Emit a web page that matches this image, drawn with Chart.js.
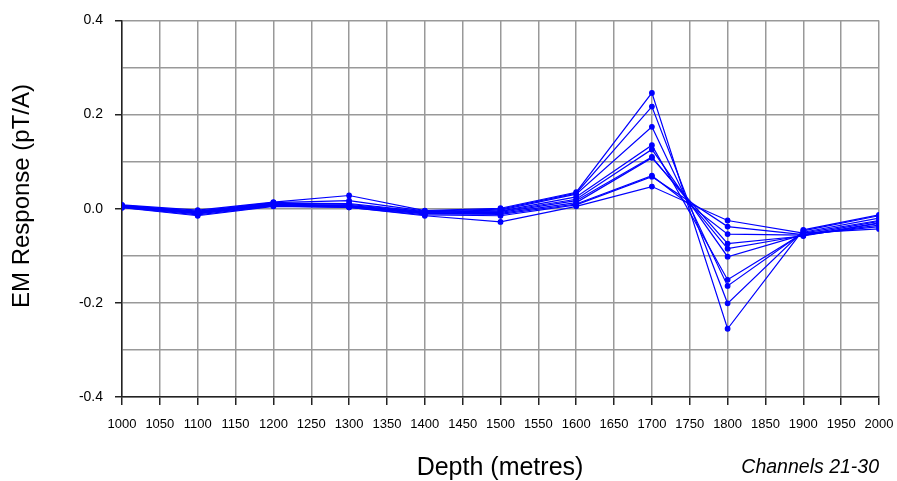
<!DOCTYPE html>
<html>
<head>
<meta charset="utf-8">
<script src="https://cdn.jsdelivr.net/npm/chart.js@4/dist/chart.umd.min.js"></script>
<style>
  html, body { margin: 0; padding: 0; background: #fff; }
  #wrap { width: 897px; height: 481px; position: relative; }
</style>
</head>
<body>
<div id="wrap"><canvas id="c"></canvas></div>
<script>
// depth stations (metres)
const depths = [1000, 1100, 1200, 1300, 1400, 1500, 1600, 1700, 1800, 1900, 2000];

// EM response per channel (pT/A)
const ch21 = [0.008, -0.003, 0.014, 0.028, -0.004, 0.001, 0.035, 0.246, -0.255, -0.045, -0.013];
const ch22 = [0.007, -0.005, 0.013, 0.017, -0.005, -0.001, 0.033, 0.217, -0.201, -0.047, -0.015];
const ch23 = [0.006, -0.006, 0.012, 0.011, -0.006, -0.003, 0.031, 0.174, -0.164, -0.050, -0.020];
const ch24 = [0.006, -0.007, 0.011, 0.009, -0.007, -0.005, 0.025, 0.135, -0.151, -0.052, -0.025];
const ch25 = [0.005, -0.008, 0.010, 0.007, -0.008, -0.006, 0.020, 0.126, -0.102, -0.055, -0.027];
const ch26 = [0.005, -0.009, 0.009, 0.006, -0.009, -0.008, 0.017, 0.110, -0.085, -0.057, -0.030];
const ch27 = [0.004, -0.010, 0.008, 0.005, -0.010, -0.010, 0.013, 0.108, -0.074, -0.058, -0.031];
const ch28 = [0.004, -0.011, 0.007, 0.004, -0.011, -0.012, 0.010, 0.070, -0.054, -0.056, -0.035];
const ch29 = [0.003, -0.013, 0.006, 0.003, -0.013, -0.015, 0.008, 0.068, -0.038, -0.055, -0.038];
const ch30 = [0.002, -0.015, 0.005, 0.003, -0.015, -0.028, 0.005, 0.047, -0.025, -0.052, -0.043];

const channels = [ch21, ch22, ch23, ch24, ch25, ch26, ch27, ch28, ch29, ch30];
const channelNames = ['21', '22', '23', '24', '25', '26', '27', '28', '29', '30'];

const yLabels = ['-0.4', '-0.2', '0.0', '0.2', '0.4'];

const BLUE = '#0000ff';
const GRID = '#999999';
const AXIS = '#222';
const FONT = "'Liberation Sans', Arial, sans-serif";

const datasets = channels.map((vals, i) => ({
  label: 'Channel ' + channelNames[i],
  data: depths.map((d, k) => ({ x: d, y: vals[k] })),
  borderColor: BLUE,
  backgroundColor: BLUE,
  borderWidth: 1.2,
  pointRadius: 2.3,
  pointHoverRadius: 2.3,
  tension: 0
}));

// axis titles drawn by hand so they sit where the original puts them
const titles = {
  id: 'titles',
  afterDraw(chart) {
    const ctx = chart.ctx;
    ctx.save();
    ctx.fillStyle = '#000';
    ctx.textBaseline = 'middle';

    ctx.font = '24px ' + FONT;
    ctx.textAlign = 'center';
    ctx.save();
    ctx.translate(22, 196);
    ctx.rotate(-Math.PI / 2);
    ctx.fillText('EM Response (pT/A)', 0, 0);
    ctx.restore();

    ctx.font = '25px ' + FONT;
    ctx.fillText('Depth (metres)', 500, 468);

    ctx.font = 'italic 19.5px ' + FONT;
    ctx.textAlign = 'right';
    ctx.fillText('Channels 21-30', 879, 468);
    ctx.restore();
  }
};

new Chart(document.getElementById('c'), {
  type: 'line',
  data: { datasets },
  options: {
    responsive: true,
    maintainAspectRatio: false,
    animation: false,
    layout: { padding: { left: 0, right: 0, top: 19, bottom: 0 } },
    plugins: { legend: { display: false }, tooltip: { enabled: false } },
    scales: {
      x: {
        type: 'linear',
        min: 1000,
        max: 2000,
        afterFit: (s) => { s.height = 84; s.paddingRight = 18; },
        border: { display: true, color: AXIS, width: 1.5 },
        grid: { color: GRID, lineWidth: 1.5, tickLength: 8, tickColor: AXIS },
        ticks: {
          stepSize: 50,
          autoSkip: false,
          maxRotation: 0,
          padding: 12,
          color: '#000',
          font: { family: FONT, size: 13 },
          callback: (v) => String(v)
        }
      },
      y: {
        min: -0.4,
        max: 0.4,
        afterFit: (s) => { s.width = 122; },
        border: { display: true, color: AXIS, width: 1.5 },
        grid: {
          color: GRID,
          lineWidth: 1.5,
          tickLength: 7,
          tickColor: (c) => {
            const v = Math.round(c.tick.value * 10);
            return v % 2 === 0 ? AXIS : 'rgba(0,0,0,0)';
          }
        },
        ticks: {
          stepSize: 0.1,
          padding: 12,
          color: '#000',
          font: { family: FONT, size: 14 },
          callback: (v) => {
            const t = Math.round(v * 10);
            if (t % 2 !== 0) return '';
            return yLabels[(t + 4) / 2];
          }
        }
      }
    }
  },
  plugins: [titles]
});
</script>
</body>
</html>
